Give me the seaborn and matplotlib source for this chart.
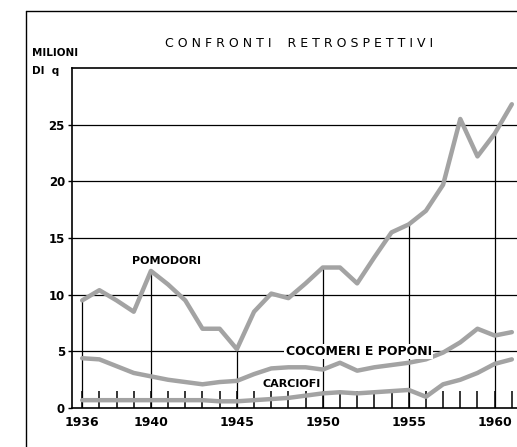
import matplotlib
matplotlib.use("Agg")
import matplotlib.pyplot as plt
import pandas as pd
import seaborn as sns
from matplotlib.lines import Line2D

# production in millions of quintals
years = list(range(1936, 1962))
pomodori = [9.5, 10.4, 9.5, 8.5, 12.1, 10.9, 9.5, 7.0, 7.0, 5.2, 8.5, 10.1, 9.7,
            11.0, 12.4, 12.4, 11.0, 13.3, 15.5, 16.2, 17.4, 19.7, 25.5, 22.2, 24.2, 26.8]
cocomeri = [4.4, 4.3, 3.7, 3.1, 2.8, 2.5, 2.3, 2.1, 2.3, 2.4, 3.0, 3.5, 3.6,
            3.6, 3.4, 4.0, 3.3, 3.6, 3.8, 4.0, 4.3, 4.9, 5.8, 7.0, 6.4, 6.7]
carciofi = [0.7, 0.7, 0.7, 0.7, 0.7, 0.7, 0.7, 0.7, 0.6, 0.6, 0.7, 0.8, 0.9,
            1.1, 1.3, 1.4, 1.3, 1.4, 1.5, 1.6, 1.0, 2.1, 2.5, 3.1, 3.9, 4.3]
label_years = [1936, 1940, 1945, 1950, 1955, 1960]
y_ticks = [0, 5, 10, 15, 20, 25]

df = pd.DataFrame({"anno": years, "POMODORI": pomodori,
                   "COCOMERI E POPONI": cocomeri, "CARCIOFI": carciofi})
long = df.melt(id_vars="anno", var_name="coltura", value_name="milioni_q")

sns.set_style("white")
plt.rcParams["text.color"] = "black"
plt.rcParams["xtick.color"] = "black"
plt.rcParams["ytick.color"] = "black"
fig = plt.figure(figsize=(5.17, 4.47), dpi=100)
ax = fig.add_axes([0.139, 0.087, 0.861, 0.761])

grey = "#a3a3a3"
sns.lineplot(data=long, x="anno", y="milioni_q", units="coltura", estimator=None,
             color=grey, lw=3.2, ax=ax, legend=False, zorder=3)

# horizontal grid
for v in y_ticks[1:]:
    ax.axhline(v, color="black", lw=0.9, zorder=1)

# drop lines from the tomato curve at the labelled years
tom = dict(zip(years, pomodori))
ax.vlines(label_years, 0, [tom[y] for y in label_years], color="black", lw=0.9, zorder=1)

ax.set_xlim(1935.4, 1961.3)
ax.set_ylim(0, 30)
ax.set_xticks(years)
ax.set_xticklabels([str(y) if y in label_years else "" for y in years],
                   fontsize=9, fontweight="bold")
ax.tick_params(axis="x", bottom=True, direction="in", length=12, width=1.1,
               color="black", pad=6)
ax.set_yticks(y_ticks)
ax.set_yticklabels([str(v) for v in y_ticks], fontsize=8.5, fontweight="bold")
ax.tick_params(axis="y", left=True, direction="out", length=3, width=1, pad=2)
ax.set_xlabel("")
ax.set_ylabel("")
for s in ["left", "bottom", "top"]:
    ax.spines[s].set_color("black")
    ax.spines[s].set_linewidth(1.2)
ax.spines["right"].set_visible(False)

# curve labels
ax.text(1940.9, 13.0, "POMODORI", fontsize=8, fontweight="bold", ha="center", va="center")
ax.text(1952.1, 5.0, "COCOMERI E POPONI", fontsize=9, fontweight="bold", ha="center",
        va="center", zorder=4, bbox=dict(facecolor="white", edgecolor="none", pad=1))
ax.text(1948.2, 2.1, "CARCIOFI", fontsize=8, fontweight="bold", ha="center", va="center")

# titles and outer frame of the page
fig.text(0.578, 0.903, "C O N F R O N T I    R E T R O S P E T T I V I",
         fontsize=9, ha="center", va="center")
fig.text(0.062, 0.882, "MILIONI", fontsize=7.5, fontweight="bold", ha="left", va="center")
fig.text(0.062, 0.842, "DI  q", fontsize=7.5, fontweight="bold", ha="left", va="center")
fig.add_artist(Line2D([0.051, 1.0], [0.976, 0.976], color="black", lw=1.0))
fig.add_artist(Line2D([0.051, 0.051], [0.0, 0.976], color="black", lw=1.0))

fig.savefig("out.png", dpi=100)
